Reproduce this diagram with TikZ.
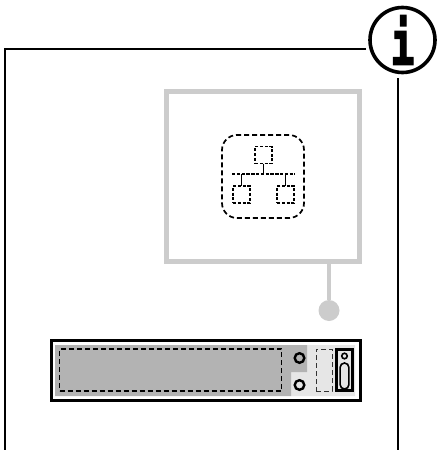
\documentclass[tikz,border=0pt]{standalone}
\usepackage{fontspec}
\newfontfamily\infofont[BoldFeatures={FakeBold=3}]{DejaVu Sans Mono}
\definecolor{pale}{HTML}{CCCCCC}
\definecolor{bay}{HTML}{B3B3B3}
\definecolor{lite}{HTML}{E6E6E6}
\usetikzlibrary{positioning}
\tikzset{
  box/.style={draw,inner sep=0pt,outer sep=0pt},
  dbox/.style={box,dash pattern=on 5pt off 3pt,line width=1.2pt},
  unit/.style={dbox,minimum width=17pt,minimum height=17pt,dash pattern=on 3pt off 1.8pt,line width=1.1pt},
  panel/.style={box,draw=pale,line width=5pt,fill=white},
  knob/.style={box,circle,line width=2.4pt,minimum size=9.6pt},
  link/.style={line width=1.1pt},
  frm/.style={line width=1.7pt},
}
\begin{document}
\begin{tikzpicture}[x=1pt,y=-1pt]
\useasboundingbox (0,0) rectangle (438,450);
% outer frame and sign
\node[box,circle,line width=3.6pt,minimum size=65pt,font=\infofont\bfseries\fontsize{60}{60}\selectfont] (info) at (402.5,40) {\scalebox{0.66}[1]{i}};
\coordinate (tl) at (5,49);
\coordinate (bl) at (5,450);
\coordinate (br) at (398,450);
\coordinate (tr) at (398,78);
\coordinate (te) at (366,49);
\draw[frm] (bl) -- (tl) -- (te);
\draw[frm] (tr) -- (br);
% zoom panel
\node[panel,minimum width=193pt,minimum height=170pt] (pan) at (263,176.5) {};
\node[box,circle,fill=pale,draw=none,minimum size=21pt] (dot) at (329,310.5) {};
\draw[pale,line width=4pt] (pan.south -| dot) -- (dot);
% network icon
\node[dbox,rounded corners=15pt,minimum width=82pt,minimum height=83pt,line width=1.7pt] (net) at (263,176.5) {};
\node[unit] (top) at (263.5,155) {};
\node[unit] (left) at (241.5,194.5) {};
\node[unit] (right) at (285.5,194.5) {};
\coordinate (busl) at (232,174);
\coordinate (busr) at (295,174);
\draw[link,dash pattern=on 3.4pt off 1.4pt] (busl) -- (busr);
\draw[link] (top) -- (top |- busl);
\draw[link] (left) -- (left |- busl);
\draw[link] (right) -- (right |- busl);
% device
\node[box,line width=3pt,fill=white,minimum width=309pt,minimum height=60pt] (dev) at (205.5,370.5) {};
\fill[lite] (291,372) -| (307,345) -- (355,345) -- (355,396) -- (291,396) -- cycle;
\fill[bay] (55,345) -- (307,345) -- (307,372) -- (291,372) -- (291,396) -- (55,396) -- cycle;
\node[dbox,minimum width=222pt,minimum height=42pt] (slot) at (170.5,370) {};
\node[knob] (ka) at (299.5,358) {};
\node[knob] (kb) at (299.5,385) {};
\node[dbox,minimum width=16pt,minimum height=42pt,line width=0.8pt,draw=black!80] (card) at (324,370) {};
\node[box,line width=2.6pt,minimum width=16pt,minimum height=41pt,fill=lite] (port) at (344.5,370) {};
\node[box,circle,line width=1.6pt,minimum size=5.5pt] (pin) at (344.5,356) {};
\node[box,rounded corners=4.4pt,line width=1.6pt,minimum width=8.8pt,minimum height=26pt] (latch) at (344.5,376) {};
\end{tikzpicture}
\end{document}
